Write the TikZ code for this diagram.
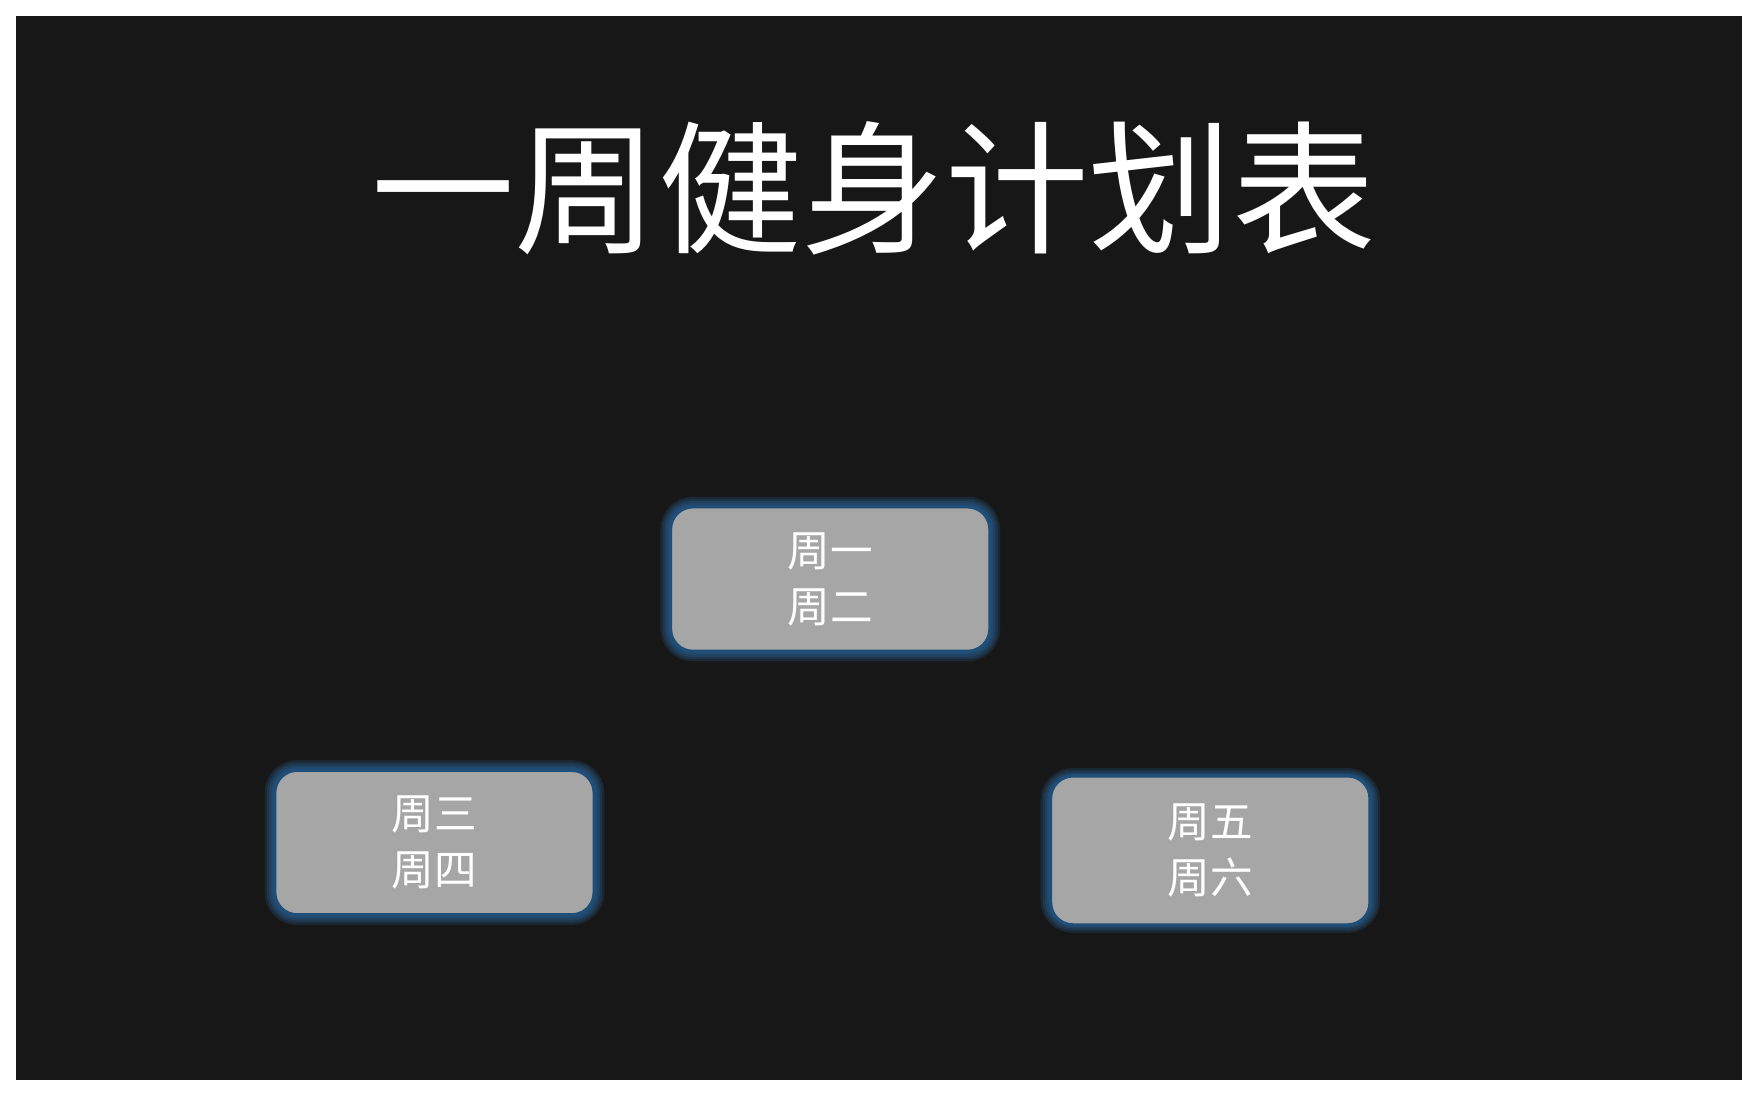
\documentclass[tikz,border=0pt]{standalone}
\usepackage{fontspec}
\newfontfamily\cjk{Noto Sans CJK SC}
\definecolor{bg}{HTML}{171717}
\definecolor{boxfill}{HTML}{A6A6A6}
\definecolor{boxedge}{HTML}{1F4E79}
\definecolor{glow}{HTML}{2E75B6}
\tikzset{
  daybox/.style={draw=boxedge, line width=1.5pt, fill=boxfill, rounded corners=10pt,
    minimum width=142.5pt, minimum height=64.5pt, align=center, text=white,
    font=\cjk\fontsize{19}{25}\selectfont, inner sep=0pt},
  glowbox/.style={draw=glow, line width=#1, opacity=0.18, rounded corners=10pt,
    minimum width=142.5pt, minimum height=64.5pt, inner sep=0pt}
}
\begin{document}
\begin{tikzpicture}[x=0.5pt,y=-0.5pt]
\useasboundingbox (0,0) rectangle (1568,977);
\fill[white] (0,0) rectangle (1568,977);
\fill[bg] (14,14) rectangle (1554,963);
\node[text=white, font=\cjk\fontsize{64}{70}\selectfont] (title) at (779,168) {一周健身计划表};
\foreach \w in {3pt,5pt,7pt,9pt}{
  \node[glowbox=\w] at (740.5,516.5) {};
  \node[glowbox=\w] at (387.5,751.5) {};
  \node[glowbox=\w] at (1079.5,758.5) {};
}
\node[daybox] (b1) at (740.5,516.5) {周一\\周二};
\node[daybox] (b2) at (387.5,751.5) {周三\\周四};
\node[daybox, minimum height=66.5pt] (b3) at (1079.5,758.5) {周五\\周六};
\end{tikzpicture}
\end{document}
